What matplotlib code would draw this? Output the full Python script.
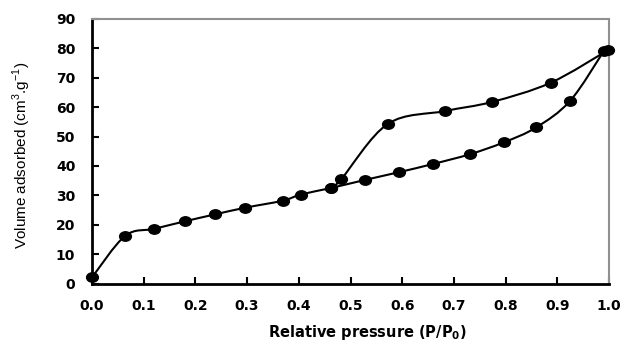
import numpy as np
import matplotlib.pyplot as plt
from matplotlib.path import Path
from matplotlib.patches import PathPatch
from matplotlib.transforms import Affine2D

# adsorption branch
ads_x = [0.0, 0.064, 0.120, 0.180, 0.237, 0.296, 0.369, 0.404, 0.462,
         0.529, 0.594, 0.660, 0.731, 0.796, 0.859, 0.925, 0.990]
ads_y = [2.1, 16.2, 18.6, 21.2, 23.5, 25.8, 28.2, 30.3, 32.5,
         35.3, 37.9, 40.7, 44.0, 48.0, 53.1, 62.2, 79.1]

# desorption branch
des_x = [0.998, 0.887, 0.774, 0.683, 0.572, 0.482, 0.462]
des_y = [79.4, 68.3, 61.8, 58.7, 54.3, 35.5, 32.5]

xticks = [0.0, 0.1, 0.2, 0.3, 0.4, 0.5, 0.6, 0.7, 0.8, 0.9, 1.0]
yticks = [0, 10, 20, 30, 40, 50, 60, 70, 80, 90]


def smooth_path(x, y, ax):
    # excel style smoothed line: bezier through the points, done in pixels
    tr = ax.transData
    p = tr.transform(np.column_stack([x, y]))
    n = len(p)
    verts = [p[0]]
    codes = [Path.MOVETO]
    for i in range(n - 1):
        p0 = p[i - 1] if i > 0 else p[i]
        p3 = p[i + 2] if i + 2 < n else p[i + 1]
        c1 = p[i] + (p[i + 1] - p0) / 6.0
        c2 = p[i + 1] - (p3 - p[i]) / 6.0
        verts += [c1, c2, p[i + 1]]
        codes += [Path.CURVE4] * 3
    verts = tr.inverted().transform(np.array(verts))
    return Path(verts, codes)


ellipse = Path.unit_circle().transformed(Affine2D().scale(1.25, 1.0))

fig = plt.figure(figsize=(6.24, 3.45), dpi=100)
ax = fig.add_axes([0.1474, 0.178, 0.8286, 0.767])
ax.set_xlim(0, 1.0)
ax.set_ylim(0, 90)

for xs, ys in [(ads_x, ads_y), (des_x, des_y)]:
    ax.add_patch(PathPatch(smooth_path(xs, ys, ax), facecolor='none',
                           edgecolor='black', lw=1.5, zorder=2))
    ax.plot(xs, ys, linestyle='none', marker=ellipse, markersize=8.5,
            color='black', zorder=3, clip_on=False)

ax.set_xticks(xticks)
ax.set_yticks(yticks)
ax.set_xticklabels(['%.1f' % v for v in xticks])
ax.set_yticklabels([str(v) for v in yticks])

ax.tick_params(direction='in', length=5, width=1.5, color='black',
               labelsize=10)
ax.tick_params(axis='x', pad=11)
ax.tick_params(axis='y', pad=12)
for lab in ax.get_xticklabels() + ax.get_yticklabels():
    lab.set_fontfamily('DejaVu Sans')
    lab.set_fontweight('bold')

for s in ['left', 'bottom']:
    ax.spines[s].set_linewidth(2)
    ax.spines[s].set_color('black')
for s in ['top', 'right']:
    ax.spines[s].set_linewidth(1.5)
    ax.spines[s].set_color('#909090')

ax.set_xlabel('Relative pressure (P/P$_\\mathregular{0}$)', fontsize=10.5,
              fontweight='bold', family='DejaVu Sans')
ax.set_ylabel('Volume adsorbed (cm$^\\mathregular{3}$.g$^\\mathregular{-1}$)',
              fontsize=11, family='Liberation Sans')
ax.xaxis.set_label_coords(0.532, -0.15)
ax.yaxis.set_label_coords(-0.115, 0.484)

fig.savefig('out.png', dpi=100)
